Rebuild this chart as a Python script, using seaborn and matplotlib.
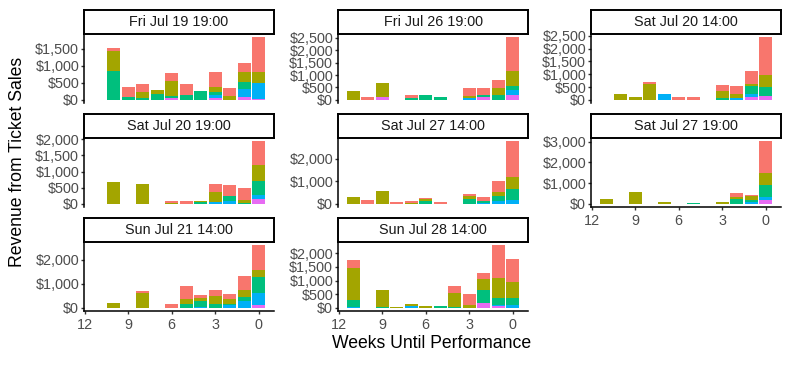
import pandas as pd
import seaborn as sns
import matplotlib
matplotlib.use("Agg")
import matplotlib.pyplot as plt
from matplotlib.ticker import MultipleLocator, StrMethodFormatter

# ticket types, listed from top of stack to bottom
ticket_types = ["Full Price", "Subscriber", "Discount", "Student", "Comp Upgrade"]
type_colors = ["#F8766D", "#A3A500", "#00BF7D", "#00B0F6", "#E76BF3"]

performances = ["Fri Jul 19 19:00", "Fri Jul 26 19:00", "Sat Jul 20 14:00",
                "Sat Jul 20 19:00", "Sat Jul 27 14:00", "Sat Jul 27 19:00",
                "Sun Jul 21 14:00", "Sun Jul 28 14:00"]
y_steps = [500, 500, 500, 500, 1000, 1000, 1000, 500]

# week until performance: revenue per ticket type (same order as ticket_types)
fri_jul19 = {10: [80, 580, 860, 0, 0], 9: [300, 0, 70, 0, 0], 8: [230, 180, 60, 0, 0],
             7: [20, 110, 170, 0, 0], 6: [260, 420, 70, 0, 50], 5: [330, 0, 140, 0, 0],
             4: [0, 0, 270, 0, 0], 3: [460, 150, 80, 80, 60], 2: [230, 120, 0, 0, 0],
             1: [260, 300, 220, 230, 80], 0: [1010, 340, 0, 460, 30]}
fri_jul26 = {11: [0, 370, 0, 0, 0], 10: [120, 0, 0, 0, 0], 9: [0, 575, 0, 0, 110],
             7: [110, 0, 80, 0, 0], 6: [0, 0, 190, 0, 0], 5: [0, 0, 110, 0, 0],
             3: [330, 70, 0, 80, 0], 2: [290, 0, 80, 0, 110], 1: [340, 300, 180, 0, 0],
             0: [1360, 600, 190, 190, 190]}
sat_jul20_mat = {10: [0, 225, 0, 0, 0], 9: [0, 105, 0, 0, 0], 8: [90, 620, 0, 0, 0],
                 7: [0, 0, 0, 240, 0], 6: [105, 0, 0, 0, 0], 5: [105, 0, 0, 0, 0],
                 3: [220, 280, 80, 0, 0], 2: [315, 145, 0, 80, 0], 1: [510, 80, 330, 105, 120],
                 0: [1470, 470, 340, 30, 140]}
sat_jul20_eve = {10: [0, 685, 0, 0, 0], 8: [0, 620, 0, 0, 0], 6: [55, 30, 0, 0, 0],
                 5: [85, 0, 0, 0, 0], 4: [0, 40, 45, 0, 0], 3: [250, 315, 0, 50, 0],
                 2: [325, 0, 170, 85, 0], 1: [390, 75, 30, 0, 0], 0: [725, 515, 420, 135, 150]}
sat_jul27_mat = {11: [0, 300, 0, 0, 0], 10: [180, 0, 0, 0, 0], 9: [0, 590, 0, 0, 0],
                 8: [75, 0, 0, 0, 0], 7: [75, 60, 0, 0, 0], 6: [45, 105, 120, 0, 0],
                 5: [75, 0, 0, 0, 0], 3: [90, 135, 210, 0, 0], 2: [180, 0, 60, 60, 0],
                 1: [525, 150, 225, 135, 0], 0: [1580, 570, 465, 180, 0]}
sat_jul27_eve = {11: [0, 240, 0, 0, 0], 9: [0, 580, 0, 0, 0], 7: [0, 100, 0, 0, 0],
                 5: [0, 0, 65, 0, 0], 3: [0, 100, 0, 0, 0], 2: [160, 100, 240, 0, 0],
                 1: [65, 160, 100, 110, 0], 0: [1510, 600, 570, 130, 210]}
sun_jul21 = {10: [0, 200, 0, 0, 0], 8: [85, 595, 0, 0, 0], 6: [170, 0, 0, 0, 0],
             5: [510, 210, 170, 0, 0], 4: [110, 130, 240, 55, 0], 3: [225, 330, 170, 0, 0],
             2: [210, 225, 55, 100, 0], 1: [565, 300, 170, 285, 0], 0: [1020, 310, 640, 525, 100]}
sun_jul28 = {11: [300, 1190, 225, 50, 0], 9: [0, 620, 50, 0, 0], 8: [0, 40, 0, 0, 0],
             7: [0, 75, 0, 75, 0], 6: [0, 85, 0, 0, 0], 5: [0, 0, 75, 0, 0],
             4: [260, 500, 40, 0, 0], 3: [410, 110, 0, 0, 0], 2: [225, 410, 460, 0, 185],
             1: [1220, 730, 250, 25, 75], 0: [860, 600, 250, 100, 0]}

tables = [fri_jul19, fri_jul26, sat_jul20_mat, sat_jul20_eve,
          sat_jul27_mat, sat_jul27_eve, sun_jul21, sun_jul28]

rows = []
for perf, table in zip(performances, tables):
    for week, values in table.items():
        for t, v in zip(ticket_types, values):
            rows.append((perf, week, t, v))
df = pd.DataFrame(rows, columns=["performance", "weeks", "type", "revenue"])

sns.set_theme(style="white")
plt.rcParams["font.family"] = ["Liberation Sans", "DejaVu Sans"]

W, H = 791, 368
fig = plt.figure(figsize=(W / 100, H / 100), dpi=100)

def box(x, y, w, h):
    return [x / W, 1 - (y + h) / H, w / W, h / H]

col_x = [84, 338, 591]
row_y = [9.5, 113.5, 217.5]
pw, sh, ph = 190, 24.5, 69

lo = df.weeks.min() - 0.45
hi = df.weeks.max() + 0.45
pad = 0.05 * (hi - lo)

for i, perf in enumerate(performances):
    r, c = divmod(i, 3)
    sub = df[df.performance == perf]
    ax = fig.add_axes(box(col_x[c], row_y[r] + sh, pw, ph))
    sns.histplot(data=sub, x="weeks", weights="revenue", hue="type",
                 hue_order=ticket_types, palette=type_colors, multiple="stack",
                 discrete=True, shrink=0.9, alpha=1, linewidth=0, legend=False, ax=ax)
    top = sub.groupby("weeks").revenue.sum().max()
    ax.set_ylim(-0.05 * top, 1.05 * top)
    ax.set_xlim(hi + pad, lo - pad)
    ax.set_xlabel("")
    ax.set_ylabel("")
    ax.yaxis.set_major_locator(MultipleLocator(y_steps[i]))
    ax.yaxis.set_major_formatter(StrMethodFormatter("${x:,.0f}"))
    ax.set_xticks([12, 9, 6, 3, 0])
    for s in ["top", "right"]:
        ax.spines[s].set_visible(False)
    ax.spines["left"].set_linewidth(1.1)
    ax.spines["left"].set_color("black")
    ax.tick_params(axis="y", length=2.2, width=1, color="#333333", pad=1.3,
                   labelsize=10.4, labelcolor="#4D4D4D", left=True)
    if i >= 5:
        ax.spines["bottom"].set_linewidth(1.1)
        ax.spines["bottom"].set_color("black")
        ax.tick_params(axis="x", length=2.2, width=1, color="#333333", pad=2.5,
                       labelsize=10.4, labelcolor="#4D4D4D", bottom=True)
    else:
        ax.spines["bottom"].set_visible(False)
        ax.tick_params(axis="x", bottom=False, labelbottom=False)

    strip = fig.add_axes(box(col_x[c], row_y[r], pw, sh))
    strip.set_xticks([])
    strip.set_yticks([])
    strip.set_facecolor("white")
    for s in strip.spines.values():
        s.set_visible(True)
        s.set_color("black")
        s.set_linewidth(1.4)
    strip.text(0.5, 0.5, perf, ha="center", va="center", fontsize=10.4,
               color="#1A1A1A", transform=strip.transAxes)

fig.text(432 / W, 1 - 343 / H, "Weeks Until Performance", ha="center", va="center",
         fontsize=12.7, color="black")
fig.text(18 / W, 1 - 162 / H, "Revenue from Ticket Sales", ha="center", va="center",
         rotation=90, fontsize=12.7, color="black")

fig.savefig("out.png", dpi=100)
